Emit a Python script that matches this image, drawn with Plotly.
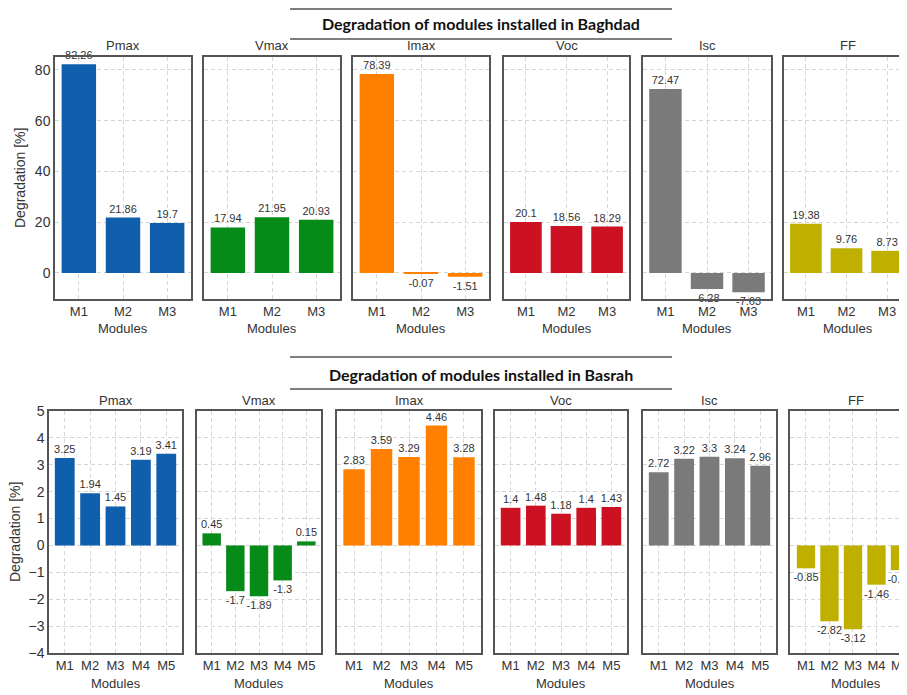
import plotly.graph_objects as go

# The page body has an 8px default margin: lay out in reference pixels, shifted by it.
OFF = 8
W, H = 907 - OFF, 695 - OFF

params = ["Pmax", "Vmax", "Imax", "Voc", "Isc", "FF"]
colors = ["#0F5FAD", "#068A18", "#FF7F00", "#CC1122", "#7A7A7A", "#BFB000"]

baghdad_modules = ["M1", "M2", "M3"]
baghdad_pmax = [82.26, 21.86, 19.7]
baghdad_vmax = [17.94, 21.95, 20.93]
baghdad_imax = [78.39, -0.07, -1.51]
baghdad_voc = [20.1, 18.56, 18.29]
baghdad_isc = [72.47, -6.28, -7.63]
baghdad_ff = [19.38, 9.76, 8.73]

basrah_modules = ["M1", "M2", "M3", "M4", "M5"]
basrah_pmax = [3.25, 1.94, 1.45, 3.19, 3.41]
basrah_vmax = [0.45, -1.7, -1.89, -1.3, 0.15]
basrah_imax = [2.83, 3.59, 3.29, 4.46, 3.28]
basrah_voc = [1.4, 1.48, 1.18, 1.4, 1.43]
basrah_isc = [2.72, 3.22, 3.3, 3.24, 2.96]
basrah_ff = [-0.85, -2.82, -3.12, -1.46, -0.92]

top_ticks = [0, 20, 40, 60, 80]
bottom_ticks = [-4, -3, -2, -1, 0, 1, 2, 3, 4, 5]

baghdad = [baghdad_pmax, baghdad_vmax, baghdad_imax, baghdad_voc, baghdad_isc, baghdad_ff]
basrah = [basrah_pmax, basrah_vmax, basrah_imax, basrah_voc, basrah_isc, basrah_ff]

# panel pixel boxes (x0, x1) in reference pixels
top_x = [(55, 191), (204, 340), (353, 489), (504, 629), (643, 771), (784, 907)]
bot_x = [(49, 182), (197, 321), (337, 481), (495, 627), (643, 776), (790, 907)]
top_y = (57, 299)
bot_y = (411, 653)

FONT = "Liberation Sans, Arial, sans-serif"
TXT = "#333333"
BORDER = "#555555"
GRID = "#d6d6d6"


def px(x):
    return (x - OFF) / W


def py(y):
    return 1 - (y - OFF) / H


fig = go.Figure()
layout = dict(width=W, height=H, margin=dict(l=0, r=0, t=0, b=0, autoexpand=False),
              paper_bgcolor="white", plot_bgcolor="white", showlegend=False,
              font=dict(family=FONT, color=TXT, size=13))

annotations = []
shapes = []


def paper_text(text, xp, yp, size=13, angle=0):
    annotations.append(dict(text=text, x=px(xp), y=py(yp), xref="paper", yref="paper",
                            showarrow=False, xanchor="center", yanchor="middle", textangle=angle,
                            font=dict(size=size, color=TXT, family=FONT)))


def add_panel(idx, xpix, ypix, mods, vals, color, xr, yr, ticks, first, last):
    xa = "xaxis" if idx == 1 else f"xaxis{idx}"
    ya = "yaxis" if idx == 1 else f"yaxis{idx}"
    xref = "x" if idx == 1 else f"x{idx}"
    yref = "y" if idx == 1 else f"y{idx}"
    fig.add_trace(go.Bar(x=mods, y=vals, marker=dict(color=color, line=dict(width=0)),
                         width=0.78, text=[f"{v:g}" for v in vals], textposition="outside",
                         textfont=dict(size=11, color=TXT, family=FONT), cliponaxis=False,
                         constraintext="none", xaxis=xref, yaxis=yref, hoverinfo="x+y"))
    layout[xa] = dict(domain=[px(xpix[0]), min(1, px(xpix[1]))], anchor=yref, automargin=False,
                      range=xr, showgrid=True, gridcolor=GRID, griddash="4px,3px", gridwidth=1,
                      showline=True, linecolor=BORDER, linewidth=1.5, mirror=True,
                      ticks="", tickfont=dict(size=13, color=TXT), zeroline=False,
                      fixedrange=True)
    layout[ya] = dict(domain=[py(ypix[1]), py(ypix[0])], anchor=xref, automargin=False,
                      range=yr, tickvals=ticks, showgrid=True, gridcolor=GRID, griddash="4px,3px",
                      gridwidth=1, showline=True, linecolor=BORDER, linewidth=1.5,
                      mirror=(not last), zeroline=False, ticks="",
                      showticklabels=first, tickfont=dict(size=14, color=TXT),
                      fixedrange=True)


i = 1
for k in range(6):
    add_panel(i, top_x[k], top_y, baghdad_modules, baghdad[k], colors[k],
              [-0.54, 2.54] if k < 5 else [-0.54, 2.49], [-10.25, 85.1], top_ticks, k == 0, k == 5)
    cx = (top_x[k][0] + top_x[k][1]) / 2 if k < 5 else top_x[k][0] + 64
    paper_text(params[k], cx, 46)
    paper_text("Modules", cx, 328)
    i += 1
for k in range(6):
    add_panel(i, bot_x[k], bot_y, basrah_modules, basrah[k], colors[k],
              [-0.62, 4.62] if k < 5 else [-0.68, 4.3], [-4, 5], bottom_ticks, k == 0, k == 5)
    cx = (bot_x[k][0] + bot_x[k][1]) / 2 if k < 5 else bot_x[k][0] + 66
    paper_text(params[k], cx, 400)
    paper_text("Modules", cx, 683)
    i += 1

paper_text("Degradation [%]", 20, 178, size=14, angle=-90)
paper_text("Degradation [%]", 15, 532, size=14, angle=-90)

# row titles with rules above and below
for title, yt, y1, y2 in [("Degradation of modules installed in Baghdad", 24, 9, 39),
                          ("Degradation of modules installed in Basrah", 374, 357, 389)]:
    annotations.append(dict(text=f"<b>{title}</b>", x=px(481), y=py(yt), xref="paper", yref="paper",
                            showarrow=False, xanchor="center", yanchor="middle",
                            font=dict(family="Lato, Open Sans, sans-serif", size=16, color="#111111")))
    for yy in (y1, y2):
        shapes.append(dict(type="line", xref="paper", yref="paper", x0=px(290), x1=px(672),
                           y0=py(yy), y1=py(yy), line=dict(color="#555555", width=1.5)))

layout["annotations"] = annotations
layout["shapes"] = shapes
fig.update_layout(**layout)
fig.write_html("out.html")
